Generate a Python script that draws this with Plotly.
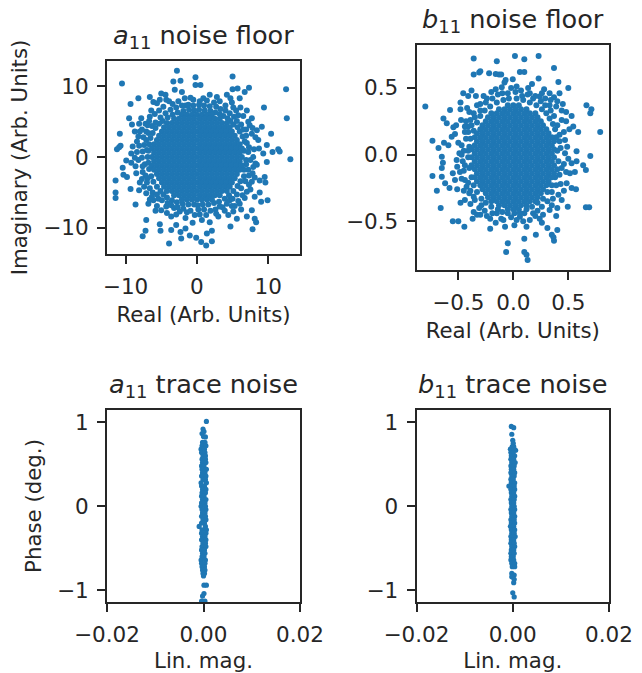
import plotly.graph_objects as go

W, H = 642, 673
BLUE = "#1f77b4"
INK = "#262626"
FONT = "DejaVu Sans"

# a11 noise floor: individually readable points (real, imag)
a_outer = [(-10.5,10.4),(-2.8,12.2),(-0.2,11.3),(5.0,11.4),(-3.3,10.7),(-2.3,10.8),(-0.2,10.2),(0.5,10.2),(12.5,9.6),(12.6,5.5),(13.1,-0.3),(9.4,7.0),(7.3,9.8),(6.7,9.2),(5.7,9.7),(5.0,9.6),(-8.2,8.3),(-9.3,7.5),(-9.5,5.5),(-9.1,4.6),(-10.8,3.3),(-10.7,1.6),(-10.9,1.4),(-11.2,1.1),(-11.4,-3.3),(-11.4,-5.0),(-11.4,-5.8),(-9.3,-4.5),(-8.6,-6.7),(-7.1,-8.9),(-7.2,-10.4),(-7.6,-11.2),(-5.2,-9.5),(-5.1,-10.4),(-3.9,-12.2),(-2.2,-11.5),(-3.6,-10.3),(-2.9,-9.6),(-2.3,-10.6),(-1.6,-10.1),(-1.0,-11.1),(-0.1,-11.4),(0.6,-12.0),(1.3,-12.5),(2.1,-11.9),(1.4,-10.8),(2.1,-10.4),(4.7,-9.8),(5.6,-8.7),(7.8,-10.2),(8.3,-9.2),(8.1,-8.7),(9.9,-6.1),(9.6,-3.6),(10.4,3.3),(9.1,4.3),(11.6,0.8),(10.6,0.7),(11.4,1.1),
(-6.6,8.5),(-6.1,7.8),(-5.0,9.0),(-4.4,8.8),(-3.1,9.5),(-2.1,9.2),(-5.2,8.1),(-4.3,8.1),(-6.4,6.6),(-6.6,5.7),(-8.1,4.7),(-7.2,4.7),(-8.7,3.6),(-8.0,3.6),(-7.1,3.6),(-9.0,1.5),(-8.4,2.2),(-9.2,0.5),(-9.9,-0.5),(-9.2,-0.8),(-8.2,-0.4),(-10.4,-1.5),(-10.3,-2.5),(-9.8,-2.8),(-8.5,-2.3),(-8.0,-3.6),(-8.1,-4.7),(-7.4,-4.2),(-6.8,-6.6),(-6.1,-6.1),(-5.4,-5.9),(-5.0,-7.5),(-4.3,-7.0),(-3.6,-8.4),(-2.4,-7.7),(-0.6,-9.3),(0.7,-8.9),(1.8,-9.2),(3.0,-8.4),(4.4,-8.2),(6.0,-6.6),(7.0,-8.4),(7.7,-7.5),(6.7,-5.8),(4.6,-6.1),(8.1,-5.6),(9.0,-6.3),(7.0,-4.9),(8.8,-5.0),(7.7,-3.5),(8.8,-3.3),(9.5,-2.8),(7.2,-1.8),(8.4,-1.1),(9.8,-0.7),(7.9,0.0),(9.3,0.5),(9.8,1.7),(8.6,2.4),(7.7,3.3),(8.4,3.8),(7.4,4.5),(7.7,5.5),(7.0,6.6),(6.1,7.0),(5.1,7.0),(6.0,8.3),(4.2,8.8),(2.8,8.5),(1.8,8.8),(0.9,8.3),(-0.5,8.1),(-1.7,8.3),(-7.0,1.0),(-7.3,-1.0),(-7.5,2.8),(-6.9,-3.0),(-7.6,-2.1),(-5.6,-6.9),(-3.2,-7.2),(-1.4,-7.8),(0.2,-7.4),(1.9,-7.6),(3.6,-7.1),(5.3,-6.9),(6.8,-3.4),(7.0,2.0),(6.9,3.9),(5.8,5.9),(4.0,7.3),(2.4,7.7),(0.3,7.4),(-1.6,7.3),(-3.4,7.5),(-5.3,6.6)]
# a11 noise floor: estimated points crowding the rim of the solid centre
a_edge = [(6.6,0.9),(6.9,-0.4),(7.2,0.7),(6.7,2.2),(7.3,1.4),(6.4,2.9),(6.9,3.0),(6.0,3.6),(6.5,3.9),(5.7,4.2),(6.2,4.6),(5.1,4.6),(5.6,5.1),(4.7,5.1),(5.2,5.7),(4.3,5.5),(4.6,6.2),(3.7,5.8),(4.0,6.6),(3.2,6.1),(3.3,6.8),(2.6,6.3),(2.7,7.1),(1.9,6.5),(1.8,7.2),(1.1,6.6),(1.0,7.3),(0.3,6.7),(-0.4,6.6),(-0.5,7.3),(-1.1,6.7),(-1.2,7.4),(-1.9,6.5),(-2.1,7.3),(-2.7,6.3),(-2.9,7.0),(-3.4,6.0),(-3.7,6.7),(-4.1,5.6),(-4.4,6.2),(-4.8,5.1),(-5.1,5.6),(-5.3,4.7),(-5.8,4.9),(-5.8,4.1),(-6.3,4.4),(-6.2,3.4),(-6.8,3.4),(-6.5,2.7),(-7.1,2.4),(-6.7,1.8),(-7.4,1.7),(-6.8,.9),(-7.6,.8),(-6.9,0),(-7.7,-.1),(-6.8,-.8),(-7.6,-1.3),(-6.7,-1.7),(-7.2,-2.6),(-6.4,-2.7),(-7.0,-3.6),(-6.1,-3.5),(-6.6,-4.4),(-5.6,-4.2),(-6.2,-5.0),(-5.1,-4.8),(-5.6,-5.3),(-4.7,-5.3),(-4.9,-6.1),(-4.2,-5.7),(-4.1,-6.5),(-3.5,-6.1),(-3.6,-6.8),(-2.8,-6.4),(-2.7,-7.1),(-2.0,-6.6),(-1.9,-7.3),(-1.2,-6.7),(-0.9,-7.6),(-0.4,-6.7),(0.1,-6.8),(0.4,-8.1),(0.8,-6.7),(1.0,-7.4),(1.6,-6.7),(2.6,-7.4),(2.4,-6.5),(3.1,-6.3),(3.2,-7.0),(3.9,-5.9),(4.2,-6.6),(4.5,-5.4),(5.0,-5.9),(5.1,-4.8),(5.6,-5.3),(5.7,-4.1),(6.2,-4.4),(6.1,-3.4),(6.6,-2.7),(6.6,-1.8),(7.3,-2.6),(6.9,-1.0),(7.5,-0.4)]
# a11 noise floor: estimated second ring just outside that rim
a_ring = [(8.0,1.1),(8.2,-0.9),(7.8,-2.3),(8.1,-2.9),(7.5,-4.6),(6.4,-5.4),(5.8,-6.2),(4.9,-6.9),(3.9,-7.6),(2.7,-8.0),(1.3,-8.2),(-0.3,-8.2),(-1.6,-8.6),(-2.9,-8.1),(-4.2,-7.9),(-6.3,-5.6),(-7.1,-5.1),(-7.7,-3.1),(-8.6,-1.3),(-8.4,0.7),(-8.1,1.6),(-8.2,2.9),(-7.7,3.9),(-6.9,4.5),(-6.7,5.1),(-5.9,6.1),(-4.7,7.1),(-3.9,7.9),(-2.6,7.9),(-0.9,8.4),(0.4,7.9),(1.4,8.0),(3.2,7.9),(4.9,7.7),(5.5,6.6),(6.5,5.8),(7.2,5.0),(7.8,4.1),(8.2,2.8),(8.7,1.2),(7.9,-1.4),(7.3,-3.9),(6.2,-7.4),(5.1,-7.7),(-5.8,-7.6),(-6.6,-6.0),(-8.7,-0.1),(-7.8,5.5),(-5.6,7.6),(4.7,8.3)]
# a11 noise floor: estimated fill of the solid centre (imag level: real values)
a_core = {
6.0:[-2.1,-1.4,-.7,0,.7,1.4,2.1],
5.4:[-3.2,-2.5,-1.8,-1.1,-.4,.4,1.1,1.8,2.5,3.2],
4.8:[-4.2,-3.5,-2.8,-2.1,-1.4,-.7,0,.7,1.4,2.1,2.8,3.5,4.2],
4.2:[-4.6,-3.9,-3.2,-2.5,-1.8,-1.1,-.4,.4,1.1,1.8,2.5,3.2,3.9,4.6],
3.6:[-4.9,-4.2,-3.5,-2.8,-2.1,-1.4,-.7,0,.7,1.4,2.1,2.8,3.5,4.2,4.9],
3.0:[-5.3,-4.6,-3.9,-3.2,-2.5,-1.8,-1.1,-.4,.4,1.1,1.8,2.5,3.2,3.9,4.6,5.3],
2.4:[-5.6,-4.9,-4.2,-3.5,-2.8,-2.1,-1.4,-.7,0,.7,1.4,2.1,2.8,3.5,4.2,4.9,5.6],
1.8:[-6.0,-5.3,-4.6,-3.9,-3.2,-2.5,-1.8,-1.1,-.4,.4,1.1,1.8,2.5,3.2,3.9,4.6,5.3,6.0],
1.2:[-6.3,-5.6,-4.9,-4.2,-3.5,-2.8,-2.1,-1.4,-.7,0,.7,1.4,2.1,2.8,3.5,4.2,4.9,5.6,6.3],
.6:[-6.0,-5.3,-4.6,-3.9,-3.2,-2.5,-1.8,-1.1,-.4,.4,1.1,1.8,2.5,3.2,3.9,4.6,5.3,6.0],
0:[-6.3,-5.6,-4.9,-4.2,-3.5,-2.8,-2.1,-1.4,-.7,0,.7,1.4,2.1,2.8,3.5,4.2,4.9,5.6,6.3],
-.6:[-6.0,-5.3,-4.6,-3.9,-3.2,-2.5,-1.8,-1.1,-.4,.4,1.1,1.8,2.5,3.2,3.9,4.6,5.3,6.0],
-1.2:[-6.3,-5.6,-4.9,-4.2,-3.5,-2.8,-2.1,-1.4,-.7,0,.7,1.4,2.1,2.8,3.5,4.2,4.9,5.6,6.3],
-1.8:[-6.0,-5.3,-4.6,-3.9,-3.2,-2.5,-1.8,-1.1,-.4,.4,1.1,1.8,2.5,3.2,3.9,4.6,5.3,6.0],
-2.4:[-5.6,-4.9,-4.2,-3.5,-2.8,-2.1,-1.4,-.7,0,.7,1.4,2.1,2.8,3.5,4.2,4.9,5.6],
-3.0:[-5.3,-4.6,-3.9,-3.2,-2.5,-1.8,-1.1,-.4,.4,1.1,1.8,2.5,3.2,3.9,4.6,5.3],
-3.6:[-4.9,-4.2,-3.5,-2.8,-2.1,-1.4,-.7,0,.7,1.4,2.1,2.8,3.5,4.2,4.9],
-4.2:[-4.6,-3.9,-3.2,-2.5,-1.8,-1.1,-.4,.4,1.1,1.8,2.5,3.2,3.9,4.6],
-4.8:[-4.2,-3.5,-2.8,-2.1,-1.4,-.7,0,.7,1.4,2.1,2.8,3.5,4.2],
-5.4:[-3.2,-2.5,-1.8,-1.1,-.4,.4,1.1,1.8,2.5,3.2],
-6.0:[-2.1,-1.4,-.7,0,.7,1.4,2.1],
}

# b11 noise floor: individually readable points (real, imag)
b_outer = [(-.80,.36),(-.36,.72),(-.15,.70),(.015,.74),(.10,.715),(.23,.74),(.37,.65),(-.36,.60),(-.31,.615),(-.30,.625),(-.22,.61),(-.16,.605),(-.13,.60),(-.11,.60),(-.07,.56),(-.005,.565),(.06,.62),(.10,.62),(.23,.57),(.41,.545),(.50,.50),(-.38,.48),(-.455,.46),(-.41,.44),(-.34,.44),(-.48,.39),(-.575,.335),(-.48,.34),(-.42,.35),(-.635,.27),(-.605,.235),(-.545,.205),(-.475,.26),(-.735,.105),(-.68,.05),(-.53,.155),(-.56,.135),(-.63,.09),(-.59,.07),(-.65,-.015),(-.64,-.06),(-.65,-.10),(-.735,-.16),(-.65,-.165),(-.695,-.27),(-.66,-.40),(-.62,-.215),(-.58,-.25),(-.55,-.14),(-.51,-.26),(-.48,-.36),(-.55,-.50),(-.50,-.50),(-.445,-.54),(-.21,-.555),(-.05,-.665),(-.065,-.73),(.10,-.73),(.12,-.75),(.13,-.79),(.10,-.63),(.205,-.60),(.31,-.55),(.40,-.565),(.35,-.60),(.37,-.645),(.365,-.62),(.495,-.39),(.66,-.395),(.69,-.395),(.57,-.26),(.53,-.25),(.79,.17),(.665,.37),(.71,.34),(.70,.31),(.70,-.01),(.59,.17),(.53,.29),(.635,-.08),(.66,-.115),(.575,-.05),(.53,-.065),(.56,-.13),(.515,-.14),(.485,-.215),(.39,-.46),(.40,-.40),(.47,.01),(.575,.025),(.545,.21),(.51,.19),(.48,.32),(.39,.36),(.42,.46),(.33,.46),(.29,.42),(.24,.435),(.135,.50),(.03,.51),(-.105,.505),(-.20,.47),(-.24,.42),(-.36,.31),(-.43,.25),(-.41,.17),(-.47,.07),(-.515,-.04),(-.47,0),(-.485,-.13),(-.425,-.24),(-.36,-.315),(-.36,-.43),(-.30,-.45),(-.21,-.48),(-.075,-.54),(.06,-.465),(.15,-.49),(.24,-.48),(.33,-.415),(.44,-.34),
(-.43,.12),(-.44,-.08),(-.41,.03),(-.44,-.19),(-.40,-.29),(-.29,-.38),(-.15,-.44),(-.02,-.47),(.10,-.44),(.22,-.42),(.36,-.33),(.43,-.22),(.44,-.10),(.43,.05),(.42,.15),(.44,.26),(.33,.37),(.20,.44),(.08,.44),(-.05,.46),(-.14,.45),(-.30,.38),(-.39,.26),(-.08,.54),(.17,.53),(.28,.49),(.37,.43)]
# b11 noise floor: estimated points crowding the rim of the solid centre
b_edge = [(.40,.03),(.41,-.05),(.42,.10),(.39,.13),(.38,.19),(.36,.23),(.40,.22),(.33,.27),(.37,.29),(.30,.31),(.34,.33),(.26,.34),(.29,.37),(.21,.37),(.25,.40),(.15,.39),(.18,.42),(.09,.41),(.13,.45),(.03,.42),(.02,.47),(-.04,.42),(-.09,.41),(-.10,.46),(-.15,.39),(-.19,.42),(-.21,.36),(-.25,.39),(-.26,.33),(-.30,.33),(-.30,.29),(-.35,.28),(-.33,.24),(-.38,.22),(-.36,.18),(-.41,.21),(-.39,.12),(-.44,.17),(-.40,.06),(-.45,.03),(-.41,-.02),(-.46,-.05),(-.40,-.10),(-.45,-.12),(-.38,-.17),(-.41,-.21),(-.36,-.23),(-.39,-.27),(-.33,-.28),(-.35,-.34),(-.29,-.33),(-.31,-.40),(-.25,-.36),(-.26,-.42),(-.20,-.39),(-.19,-.44),(-.14,-.41),(-.10,-.43),(-.11,-.48),(-.05,-.44),(.01,-.44),(.03,-.49),(.06,-.44),(.12,-.41),(.17,-.39),(.18,-.44),(.22,-.36),(.26,-.39),(.27,-.33),(.31,-.35),(.31,-.28),(.35,-.28),(.35,-.23),(.39,-.23),(.38,-.17),(.42,-.15),(.40,-.11),(.46,-.07)]
# b11 noise floor: estimated second ring just outside that rim
b_ring = [(.47,.11),(.46,.17),(.48,.25),(.44,.33),(.40,.40),(.34,.41),(.26,.46),(.15,.46),(.07,.48),(-.02,.50),(-.16,.49),(-.27,.44),(-.33,.37),(-.40,.32),(-.44,.21),(-.50,.09),(-.49,.01),(-.51,-.09),(-.47,-.18),(-.45,-.27),(-.44,-.34),(-.39,-.37),(-.33,-.45),(-.24,-.46),(-.16,-.51),(-.09,-.49),(.01,-.53),(.09,-.50),(.20,-.46),(.27,-.45),(.35,-.38),(.41,-.30),(.46,-.27),(.48,-.13),(.50,-.03),(.49,.06),(.45,.38),(.12,-.54),(.26,-.51),(-.37,-.48),(-.52,.22),(-.53,-.19)]
# b11 noise floor: estimated fill of the solid centre (imag level: real values)
b_core = {
.37:[-.05,0,.05],
.34:[-.13,-.08,-.03,.02,.07,.12],
.31:[-.2,-.15,-.1,-.05,0,.05,.1,.15,.2],
.28:[-.23,-.18,-.13,-.08,-.03,.02,.07,.12,.17,.22],
.25:[-.25,-.2,-.15,-.1,-.05,0,.05,.1,.15,.2,.25],
.22:[-.28,-.23,-.18,-.13,-.08,-.03,.02,.07,.12,.17,.22,.27],
.19:[-.3,-.25,-.2,-.15,-.1,-.05,0,.05,.1,.15,.2,.25,.3],
.16:[-.33,-.28,-.23,-.18,-.13,-.08,-.03,.02,.07,.12,.17,.22,.27,.32],
.13:[-.35,-.3,-.25,-.2,-.15,-.1,-.05,0,.05,.1,.15,.2,.25,.3,.35],
.10:[-.33,-.28,-.23,-.18,-.13,-.08,-.03,.02,.07,.12,.17,.22,.27,.32,.37],
.07:[-.35,-.3,-.25,-.2,-.15,-.1,-.05,0,.05,.1,.15,.2,.25,.3,.35],
.04:[-.38,-.33,-.28,-.23,-.18,-.13,-.08,-.03,.02,.07,.12,.17,.22,.27,.32,.37],
.01:[-.35,-.3,-.25,-.2,-.15,-.1,-.05,0,.05,.1,.15,.2,.25,.3,.35],
-.02:[-.38,-.33,-.28,-.23,-.18,-.13,-.08,-.03,.02,.07,.12,.17,.22,.27,.32,.37],
-.05:[-.35,-.3,-.25,-.2,-.15,-.1,-.05,0,.05,.1,.15,.2,.25,.3,.35],
-.08:[-.38,-.33,-.28,-.23,-.18,-.13,-.08,-.03,.02,.07,.12,.17,.22,.27,.32,.37],
-.11:[-.35,-.3,-.25,-.2,-.15,-.1,-.05,0,.05,.1,.15,.2,.25,.3,.35],
-.14:[-.33,-.28,-.23,-.18,-.13,-.08,-.03,.02,.07,.12,.17,.22,.27,.32,.37],
-.17:[-.35,-.3,-.25,-.2,-.15,-.1,-.05,0,.05,.1,.15,.2,.25,.3,.35],
-.20:[-.33,-.28,-.23,-.18,-.13,-.08,-.03,.02,.07,.12,.17,.22,.27,.32],
-.23:[-.3,-.25,-.2,-.15,-.1,-.05,0,.05,.1,.15,.2,.25,.3],
-.26:[-.28,-.23,-.18,-.13,-.08,-.03,.02,.07,.12,.17,.22,.27],
-.29:[-.25,-.2,-.15,-.1,-.05,0,.05,.1,.15,.2,.25],
-.32:[-.23,-.18,-.13,-.08,-.03,.02,.07,.12,.17,.22],
-.35:[-.2,-.15,-.1,-.05,0,.05,.1,.15,.2],
-.38:[-.13,-.08,-.03,.02,.07,.12],
-.41:[-.05,0,.05],
}

# a11 trace noise (lin. mag., phase)
c_outer = [(.0006,1.01),(-.0001,.92),(-.0003,.865),(.0001,.89),(.0004,.825),(0,.83),(.0001,-.94),(.0006,-.94),(.0001,-1.04),(-.0002,-1.07),(-.0004,-1.13),(.0003,-1.13),(0,-1.15)]
c_rows = {
.76:[-.0002,.0003],.72:[-.0003,.0005],.68:[-.0005,.0002],.64:[-.0004,.0003],.60:[-.0001,.0004],.56:[-.0003,.0004],
.52:[-.0002,.0005],.48:[-.0004,.0001],.44:[-.0003,.0006],.40:[-.0002,.0003],.36:[-.0004,.0005],.32:[-.0001,.0004],
.28:[-.0005,.0006],.24:[-.0004,.0002],.20:[-.0002,.0005],.16:[-.0003,.0004],.12:[-.0004,.0001],.08:[-.0002,.0005],
.04:[-.0004,.0003],0:[-.0005,.0004],-.04:[-.0003,.0005],-.08:[-.0002,.0003],-.12:[-.0004,.0004],-.16:[-.0001,.0005],
-.20:[-.0004,.0002],-.24:[-.0009,.0004],-.28:[-.0003,.0006],-.32:[-.0004,.0005],-.36:[-.0002,.0003],-.40:[-.0004,.0005],
-.44:[-.0001,.0004],-.48:[-.0003,.0005],-.52:[-.0004,.0002],-.56:[-.0002,.0003],-.60:[-.0003,.0001],-.64:[-.0005,.0004],
-.68:[-.0004,.0003],-.72:[-.0003,.0002],-.76:[-.0002,.0003],-.80:[-.0001,.0002],-.83:[0],
}

# b11 trace noise (lin. mag., phase)
d_outer = [(-.0003,.95),(.0002,.935),(-.0002,.857),(0,.785),(.0001,.75),(.0006,.667),(-.0008,.24),(-.0002,-.80),(.0003,-.82),(-.0002,-.84),(.0003,-.87),(.0002,-.91),(0,-1.03),(.0003,-1.08)]
d_rows = {
.71:[-.0001,.0002],.68:[-.0005,.0003],.64:[-.0004,.0001],.60:[-.0003,.0004],.56:[-.0004,.0002],.52:[-.0002,.0005],
.48:[-.0004,.0003],.44:[-.0003,.0002],.40:[-.0004,.0004],.36:[-.0002,.0003],.32:[-.0004,.0001],.28:[-.0003,.0004],
.24:[-.0002,.0003],.20:[-.0004,.0004],.16:[-.0003,.0002],.12:[-.0002,.0004],.08:[-.0004,.0003],.04:[-.0003,.0002],
0:[-.0002,.0003],-.04:[-.0004,.0004],-.08:[-.0003,.0002],-.12:[-.0002,.0004],-.16:[-.0004,.0003],-.20:[-.0003,.0004],
-.24:[-.0005,.0002],-.28:[-.0003,.0004],-.32:[-.0002,.0003],-.36:[-.0004,.0005],-.40:[-.0003,.0002],-.44:[-.0004,.0003],
-.48:[-.0002,.0004],-.52:[-.0003,.0002],-.56:[-.0004,.0003],-.60:[-.0003,.0001],-.64:[-.0004,.0002],-.68:[-.0002,.0004],-.72:[-.0001,.0004],
}

def flatten(outer, rows):
    xs = [p[0] for p in outer]
    ys = [p[1] for p in outer]
    for level, vals in rows.items():
        xs += vals
        ys += [level] * len(vals)
    return xs, ys

a_re, a_im = flatten(a_outer + a_edge + a_ring, a_core)
b_re, b_im = flatten(b_outer + b_edge + b_ring, b_core)
c_mag, c_phase = flatten(c_outer, c_rows)
d_mag, d_phase = flatten(d_outer, d_rows)

panels = [
    dict(n="", x=a_re, y=a_im, box=(107, 300, 61, 254), xr=(-12.6, 14.45), yr=(-13.7, 13.58),
         xt=[-10, 0, 10], yt=[-10, 0, 10], xf="d", yf="d", size=6,
         title="<i>a</i><sub>11</sub> noise floor", xl="Real (Arb. Units)", yl="Imaginary (Arb. Units)", ty=36),
    dict(n="2", x=b_re, y=b_im, box=(416.5, 609, 45, 270), xr=(-.88, .87), yr=(-.865, .822),
         xt=[-.5, 0, .5], yt=[-.5, 0, .5], xf=".1f", yf=".1f", size=6,
         title="<i>b</i><sub>11</sub> noise floor", xl="Real (Arb. Units)", yl=None, ty=20),
    dict(n="3", x=c_mag, y=c_phase, box=(107, 300, 410, 602), xr=(-.02, .02), yr=(-1.14, 1.146),
         xt=[-.02, 0, .02], yt=[-1, 0, 1], xf=".2f", yf="d", size=5.2,
         title="<i>a</i><sub>11</sub> trace noise", xl="Lin. mag.", yl="Phase (deg.)", ty=385),
    dict(n="4", x=d_mag, y=d_phase, box=(416.5, 609, 410, 602), xr=(-.02, .02), yr=(-1.14, 1.146),
         xt=[-.02, 0, .02], yt=[-1, 0, 1], xf=".2f", yf="d", size=5.2,
         title="<i>b</i><sub>11</sub> trace noise", xl="Lin. mag.", yl=None, ty=385),
]

fig = go.Figure()
layout = dict(width=W, height=H, margin=dict(l=0, r=0, t=0, b=0), paper_bgcolor="white",
              plot_bgcolor="white", showlegend=False, font=dict(family=FONT, color=INK), annotations=[])

for p in panels:
    x0, x1, y0, y1 = p["box"]
    fig.add_trace(go.Scatter(x=p["x"], y=p["y"], mode="markers", xaxis="x" + p["n"], yaxis="y" + p["n"],
                             marker=dict(color=BLUE, size=p["size"], line=dict(width=0))))
    common = dict(showgrid=False, zeroline=False, showline=True, linecolor=INK, linewidth=2, mirror=True,
                  ticks="outside", ticklen=8, tickwidth=2, tickcolor=INK, tickfont=dict(size=21.5, color=INK),
                  ticklabelstandoff=4, automargin=False)
    layout["xaxis" + p["n"]] = dict(common, domain=[x0 / W, x1 / W], range=list(p["xr"]), anchor="y" + p["n"],
                                    tickvals=p["xt"], tickformat=p["xf"],
                                    title=dict(text=p["xl"], font=dict(size=21.3, color=INK), standoff=9))
    layout["yaxis" + p["n"]] = dict(common, domain=[1 - y1 / H, 1 - y0 / H], range=list(p["yr"]), anchor="x" + p["n"],
                                    tickvals=p["yt"], tickformat=p["yf"],
                                    title=dict(text=p["yl"], font=dict(size=21.3, color=INK), standoff=10) if p["yl"] else None)
    layout["annotations"].append(dict(text=p["title"], xref="paper", yref="paper", x=(x0 + x1) / 2 / W,
                                      y=1 - p["ty"] / H, xanchor="center", yanchor="middle", showarrow=False,
                                      font=dict(size=25.6, color=INK)))

fig.update_layout(**layout)
fig.write_html("out.html", config=dict(displayModeBar=False), post_script="document.body.style.margin='0';")
